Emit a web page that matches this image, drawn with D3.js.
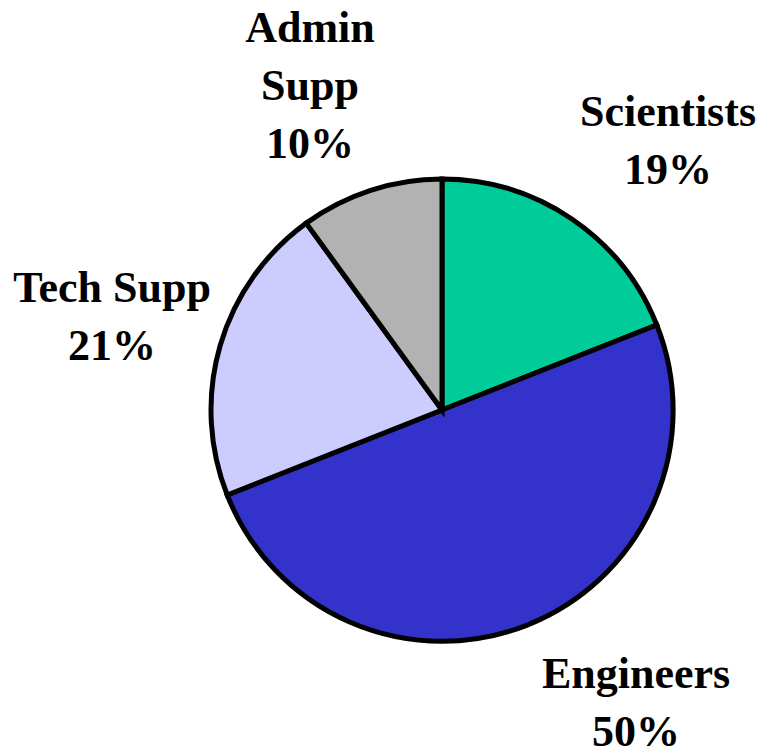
<!DOCTYPE html>
<html>
<head>
<meta charset="utf-8">
<script src="https://cdn.jsdelivr.net/npm/d3@7"></script>
<style>
  html, body { margin: 0; padding: 0; background: #ffffff; }
  svg { display: block; }
</style>
</head>
<body>
<svg id="chart" width="769" height="755"></svg>
<script>
// ---- data ----
const categories = ["Scientists", "Engineers", "Tech Supp", "Admin Supp"];
const values = [19, 50, 21, 10];
const colors = ["#00CC99", "#3333CC", "#CCCCFF", "#B2B2B2"];
// label lines (text) per category
const labelLines = [["Scientists"], ["Engineers"], ["Tech Supp"], ["Admin", "Supp"]];

// ---- layout ----
const W = 769, H = 755;
const cx = 442, cy = 410, R = 231;
// label anchor (center x, first baseline y) for each category
const labelPos = [[668, 126], [636, 688], [112, 302], [310, 42]];
const lineGap = 58;

const svg = d3.select("#chart");
const total = d3.sum(values);
const data = categories.map((c, i) => ({ name: c, value: values[i], color: colors[i], lines: labelLines[i], pos: labelPos[i] }));

const pie = d3.pie().value(d => d.value).sort(null).startAngle(0).endAngle(2 * Math.PI);
const arc = d3.arc().innerRadius(0).outerRadius(R);

const g = svg.append("g").attr("transform", `translate(${cx},${cy})`);
g.selectAll("path")
  .data(pie(data))
  .join("path")
  .attr("d", arc)
  .attr("fill", d => d.data.color)
  .attr("stroke", "#000")
  .attr("stroke-width", 5)
  .attr("stroke-linejoin", "miter");

const fmt = d => Math.round(d.value / total * 100) + "%";

const labels = svg.selectAll("text.lbl")
  .data(data)
  .join("text")
  .attr("class", "lbl")
  .attr("text-anchor", "middle")
  .attr("font-family", "'Liberation Serif', 'Times New Roman', serif")
  .attr("font-weight", "bold")
  .attr("font-size", 44)
  .attr("fill", "#000");

labels.each(function(d) {
  const t = d3.select(this);
  const lines = d.lines.concat([fmt(d)]);
  lines.forEach((s, i) => {
    t.append("tspan")
      .attr("x", d.pos[0])
      .attr("y", d.pos[1] + i * lineGap)
      .text(s);
  });
});
</script>
</body>
</html>
